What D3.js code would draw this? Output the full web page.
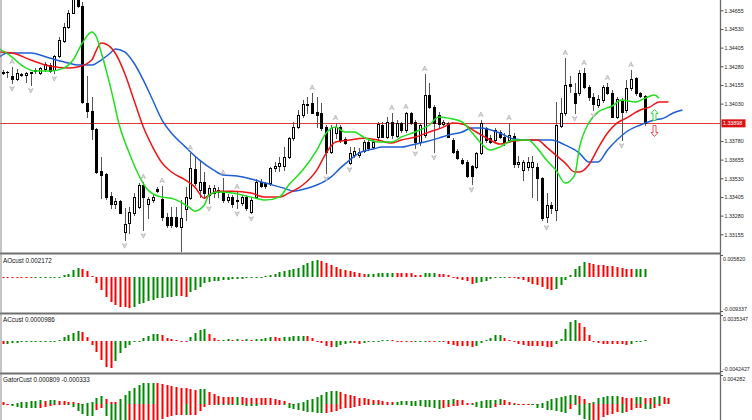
<!DOCTYPE html>
<html><head><meta charset="utf-8">
<script src="https://cdn.jsdelivr.net/npm/d3@7"></script>
<style>html,body{margin:0;padding:0;background:#fff}svg{display:block}</style>
</head><body>
<svg id="c" width="752" height="420"></svg>
<script>
// ---------- DATA ----------
const open = [
1.34242,1.34245,1.34215,1.34195,1.34228,1.34222,1.34242,1.34250,1.34237,1.34260,
1.34286,1.34255,1.34349,1.34451,1.34541,1.34639,1.34737,1.34684,1.34034,1.33980,
1.33860,1.33578,1.33558,1.33411,1.33357,1.33377,1.33170,1.33230,1.33297,1.33337,
1.33485,1.33357,1.33384,1.33458,1.33391,1.33270,1.33270,1.33270,1.33203,1.33324,
1.33397,1.33592,1.33451,1.33505,1.33418,1.33431,1.33451,1.33444,1.33384,1.33404,
1.33377,1.33364,1.33404,1.33304,1.33404,1.33505,1.33498,1.33498,1.33598,1.33612,
1.33612,1.33672,1.33799,1.33873,1.33954,1.34027,1.34034,1.33974,1.33967,1.33873,
1.33706,1.33833,1.33873,1.33793,1.33632,1.33685,1.33685,1.33712,1.33773,1.33739,
1.33806,1.33887,1.33806,1.33907,1.33813,1.33900,1.33853,1.33967,1.33907,1.33773,
1.33819,1.34088,1.34007,1.33954,1.33893,1.33900,1.33786,1.33712,1.33652,1.33639,
1.33612,1.33605,1.33699,1.33866,1.33799,1.33786,1.33840,1.33806,1.33786,1.33813,
1.33625,1.33585,1.33605,1.33605,1.33605,1.33531,1.33270,1.33351,1.33317,1.33880,
1.33967,1.34161,1.34101,1.34101,1.34235,1.34141,1.34074,1.34020,1.34054,1.34141,
1.34101,1.33940,1.34047,1.33987,1.34134,1.34201,1.34101,1.34081];
const high = [
1.34255,1.34248,1.34275,1.34262,1.34237,1.34244,1.34244,1.34266,1.34277,1.34311,
1.34304,1.34356,1.34478,1.34568,1.34657,1.34778,1.34778,1.34711,1.34215,1.34074,
1.33866,1.33672,1.33565,1.33438,1.33397,1.33384,1.33330,1.33337,1.33431,1.33498,
1.33505,1.33404,1.33418,1.33471,1.33478,1.33297,1.33337,1.33337,1.33384,1.33471,
1.33699,1.33672,1.33652,1.33572,1.33485,1.33485,1.33471,1.33531,1.33424,1.33418,
1.33438,1.33418,1.33418,1.33404,1.33525,1.33525,1.33505,1.33605,1.33639,1.33672,
1.33739,1.33806,1.33907,1.33987,1.34054,1.34074,1.34101,1.34074,1.34034,1.33887,
1.33887,1.33900,1.33887,1.33806,1.33739,1.33739,1.33732,1.33786,1.33799,1.33786,
1.33907,1.33907,1.33940,1.33967,1.33920,1.33907,1.33974,1.33974,1.33920,1.33900,
1.34228,1.34168,1.34020,1.33974,1.33920,1.33907,1.33799,1.33726,1.33665,1.33652,
1.33619,1.33706,1.33920,1.33873,1.33819,1.33866,1.33853,1.33833,1.33900,1.33833,
1.33679,1.33652,1.33672,1.33679,1.33632,1.33538,1.33431,1.33371,1.34041,1.34067,
1.34335,1.34215,1.34168,1.34255,1.34268,1.34155,1.34101,1.34088,1.34155,1.34168,
1.34121,1.34074,1.34067,1.34188,1.34255,1.34208,1.34108,1.34088];
const low = [
1.34228,1.34208,1.34168,1.34188,1.34215,1.34177,1.34155,1.34237,1.34228,1.34250,
1.34244,1.34235,1.34344,1.34445,1.34534,1.34635,1.34679,1.34034,1.33940,1.33793,
1.33565,1.33397,1.33391,1.33330,1.33330,1.33297,1.33116,1.33163,1.33283,1.33330,
1.33183,1.33263,1.33371,1.33438,1.33250,1.33203,1.33203,1.33203,1.33042,1.33250,
1.33391,1.33485,1.33404,1.33397,1.33364,1.33404,1.33404,1.33371,1.33371,1.33337,
1.33330,1.33351,1.33317,1.33297,1.33397,1.33471,1.33464,1.33485,1.33578,1.33578,
1.33585,1.33665,1.33786,1.33866,1.33940,1.33967,1.33967,1.33873,1.33853,1.33565,
1.33699,1.33799,1.33773,1.33759,1.33625,1.33672,1.33672,1.33706,1.33719,1.33732,
1.33786,1.33806,1.33799,1.33799,1.33806,1.33840,1.33840,1.33893,1.33732,1.33753,
1.33806,1.34000,1.33706,1.33873,1.33887,1.33806,1.33699,1.33659,1.33625,1.33538,
1.33491,1.33598,1.33692,1.33773,1.33766,1.33773,1.33799,1.33753,1.33773,1.33605,
1.33605,1.33518,1.33585,1.33404,1.33384,1.33250,1.33237,1.33297,1.33250,1.33873,
1.33954,1.34108,1.33967,1.34088,1.34134,1.34054,1.33987,1.34007,1.34041,1.34094,
1.33940,1.33933,1.33786,1.33974,1.34121,1.34088,1.34074,1.33887];
const close = [
1.34238,1.34243,1.34195,1.34232,1.34225,1.34232,1.34238,1.34252,1.34266,1.34295,
1.34250,1.34349,1.34456,1.34545,1.34639,1.34737,1.34684,1.34041,1.33980,1.33860,
1.33572,1.33552,1.33404,1.33357,1.33377,1.33300,1.33223,1.33304,1.33404,1.33485,
1.33404,1.33391,1.33404,1.33444,1.33270,1.33217,1.33217,1.33210,1.33263,1.33404,
1.33598,1.33498,1.33505,1.33431,1.33464,1.33464,1.33438,1.33384,1.33404,1.33357,
1.33384,1.33404,1.33330,1.33384,1.33505,1.33478,1.33478,1.33598,1.33612,1.33632,
1.33672,1.33799,1.33873,1.33954,1.34027,1.34020,1.33970,1.33954,1.33866,1.33706,
1.33866,1.33873,1.33786,1.33766,1.33699,1.33712,1.33706,1.33773,1.33732,1.33773,
1.33893,1.33809,1.33907,1.33819,1.33900,1.33853,1.33967,1.33900,1.33773,1.33887,
1.34088,1.34007,1.33900,1.33893,1.33907,1.33809,1.33706,1.33665,1.33632,1.33545,
1.33545,1.33699,1.33900,1.33786,1.33773,1.33853,1.33806,1.33766,1.33819,1.33625,
1.33639,1.33639,1.33639,1.33639,1.33531,1.33263,1.33351,1.33330,1.33887,1.33967,
1.34155,1.34148,1.34034,1.34235,1.34141,1.34074,1.34027,1.34061,1.34141,1.34101,
1.33943,1.34061,1.33974,1.34134,1.34195,1.34101,1.34081,1.33898];

// Alligator lines (bar index, price)
const jawIdx = [-1,1,6,10,14,16,19,21,23,24,26,28,30,32,34,36,39,42,45,47,50,53,56,60,62,65,67,70,72,74,76,79,81,85,87,90,93,95,98,100,102,106,109,112,117,120,123,125,127,129,131,133,136,139,141,143,145];
const jawVal = [1.34335,1.34369,1.34369,1.34335,1.34302,1.34288,1.34288,1.34322,1.34369,1.34396,1.34376,1.34302,1.34188,1.34054,1.33920,1.33833,1.33739,1.33652,1.33585,1.33552,1.33545,1.33525,1.33498,1.33464,1.33444,1.33464,1.33485,1.33538,1.33598,1.33652,1.33699,1.33726,1.33739,1.33739,1.33752,1.33773,1.33799,1.33819,1.33840,1.33866,1.33866,1.33833,1.33793,1.33786,1.33786,1.33752,1.33699,1.33639,1.33639,1.33719,1.33786,1.33840,1.33887,1.33920,1.33933,1.33967,1.33987];
const teethIdx = [-1,2,6,10,14,16,19,20,21,22,24,26,28,30,32,34,36,39,41,43,44,46,49,53,56,59,61,64,67,69,71,74,77,80,83,85,88,91,94,96,98,101,104,106,109,112,114,116,118,120,122,123,125,127,129,131,133,136,138,140,142];
const teethVal = [1.34376,1.34369,1.34322,1.34282,1.34268,1.34275,1.34322,1.34389,1.34436,1.34429,1.34369,1.34235,1.34054,1.33873,1.33739,1.33632,1.33572,1.33518,1.33471,1.33397,1.33418,1.33444,1.33444,1.33431,1.33404,1.33404,1.33431,1.33485,1.33585,1.33699,1.33773,1.33786,1.33799,1.33786,1.33766,1.33786,1.33806,1.33840,1.33873,1.33900,1.33893,1.33840,1.33786,1.33759,1.33779,1.33786,1.33786,1.33739,1.33685,1.33632,1.33572,1.33572,1.33619,1.33732,1.33833,1.33900,1.33933,1.33987,1.34007,1.34041,1.34041];
const lipsIdx = [-1,2,4,7,10,13,15,17,19,20,21,23,25,27,29,31,34,36,38,40,41,43,44,46,49,53,56,59,61,64,67,69,71,73,75,77,80,83,85,88,91,93,95,98,100,102,104,106,109,112,114,116,118,120,122,123,125,127,130,132,135,137,139,140];
const lipsVal = [1.34402,1.34342,1.34288,1.34248,1.34248,1.34268,1.34322,1.34436,1.34510,1.34476,1.34376,1.34141,1.33873,1.33699,1.33552,1.33451,1.33404,1.33397,1.33371,1.33330,1.33310,1.33351,1.33418,1.33438,1.33431,1.33404,1.33384,1.33404,1.33485,1.33585,1.33719,1.33833,1.33873,1.33840,1.33840,1.33806,1.33773,1.33773,1.33806,1.33840,1.33887,1.33940,1.33933,1.33907,1.33840,1.33766,1.33719,1.33739,1.33786,1.33786,1.33732,1.33652,1.33585,1.33498,1.33552,1.33732,1.33900,1.33974,1.34014,1.34054,1.34041,1.34067,1.34088,1.34067];

// Fractal bars
const upFractals = [2,30,34,40,47,50,66,71,83,86,90,102,108,120,124,129,134];
const downFractals = [2,6,11,26,30,44,50,53,69,74,88,92,100,116,122,126,132];

// Signal arrows (bar, price)
const signalBar = [139, 139];
const signalPrice = [1.33994, 1.33887];
const signalDir = ['up', 'down'];

// Price axis ticks
const priceTicks = [1.34655,1.34530,1.34405,1.34280,1.34155,1.34030,1.33780,1.33655,1.33530,1.33405,1.33280,1.33155];

// AO
const ao = [
-0.000179,-0.000205,-0.000232,-0.000259,-0.000286,-0.000304,-0.000321,-0.000295,-0.000268,-0.000232,
-0.000196,-0.000134,0.000045,0.000447,0.000893,0.001786,0.002500,0.002233,0.001607,0.000179,
-0.001518,-0.003572,-0.005537,-0.006698,-0.007591,-0.008037,-0.008216,-0.008305,-0.008037,-0.007412,
-0.007144,-0.006519,-0.006251,-0.005805,-0.005626,-0.005447,-0.005313,-0.005090,-0.005269,-0.005358,
-0.004019,-0.003572,-0.002679,-0.001518,-0.001340,-0.001161,-0.001072,-0.000893,-0.000714,-0.000625,
-0.000536,-0.000447,-0.000357,-0.000268,-0.000179,-0.000089,0.000268,0.000447,0.000893,0.001340,
0.001518,0.001786,0.002233,0.002500,0.003126,0.003840,0.004465,0.004644,0.004465,0.003840,
0.003304,0.002679,0.002054,0.001786,0.001607,0.001340,0.001072,0.000804,0.000848,0.000893,
0.000982,0.001072,0.001161,0.001206,0.001161,0.001116,0.001072,0.001027,0.000625,0.000580,
0.001072,0.001161,0.001206,0.000893,0.000848,0.000447,0.000045,-0.000447,-0.000714,-0.001072,
-0.001786,-0.001697,-0.001429,-0.001072,-0.000625,-0.000179,-0.000089,0.000000,-0.000089,-0.000357,
-0.000447,-0.000893,-0.001340,-0.001786,-0.002054,-0.002679,-0.003126,-0.003393,-0.003126,-0.002054,
-0.000714,0.000447,0.002233,0.002947,0.003929,0.003840,0.003572,0.003304,0.003126,0.002947,
0.002858,0.002679,0.002411,0.002233,0.002054,0.002099,0.002143,0.002172];
const aoRange = [-0.009337, 0.005820];

// AC
const ac = [
-0.000455,-0.000364,-0.000318,-0.000227,-0.000182,-0.000136,-0.000091,-0.000068,-0.000045,-0.000023,
0.000000,0.000045,0.000182,0.000546,0.000773,0.001137,0.001319,0.001228,0.000546,-0.000591,
-0.001501,-0.002637,-0.003592,-0.003729,-0.002728,-0.001728,-0.001046,-0.000591,-0.000136,0.000000,
0.000364,0.000682,0.000909,0.001000,0.000818,0.000455,0.000227,0.000136,-0.000045,-0.000136,
0.000546,0.001137,0.001501,0.001682,0.001000,0.000364,0.000136,0.000182,0.000227,0.000182,
0.000227,0.000182,0.000205,0.000182,0.000227,0.000318,0.000409,0.000546,0.000500,0.000455,
0.000546,0.000591,0.000637,0.000682,0.000728,0.000682,0.000455,0.000000,-0.000227,-0.000682,
-0.000909,-0.000818,-0.000546,-0.000364,-0.000227,-0.000273,-0.000364,-0.000273,-0.000136,-0.000091,
0.000045,0.000091,0.000114,0.000091,0.000045,0.000000,-0.000045,-0.000091,-0.000045,0.000000,
0.000045,-0.000045,-0.000091,-0.000045,-0.000091,-0.000455,-0.000591,-0.000682,-0.000728,-0.000750,
-0.000773,-0.000637,-0.000227,0.000136,0.000455,0.000773,0.000818,0.000364,0.000091,-0.000045,
-0.000455,-0.000591,-0.000682,-0.000705,-0.000728,-0.000750,-0.000773,-0.000796,-0.000455,0.000227,
0.001682,0.002592,0.002956,0.002501,0.001910,0.000864,0.000000,-0.000273,-0.000364,-0.000409,
-0.000432,-0.000455,-0.000477,-0.000500,-0.000364,-0.000182,-0.000045,0.0000986];
const acRange = [-0.0042427, 0.0035347];

// Gator (upper = |jaw-teeth|, lower = |teeth-lips|)
const gatorUp = [
0.000235,0,0,0.000134,0.000268,0.000369,0.000469,0.000503,0.000536,0.000503,
0.000536,0.000536,0.000503,0.000436,0.000335,0.000235,0.000134,0,0.000134,0.000335,
0.000871,0.001139,0.000804,0.000335,0.000268,0.000804,0.001407,0.002010,0.002479,0.002881,
0.003082,0.003149,0.003216,0.003149,0.003015,0.002881,0.002747,0.002613,0.002479,0.002345,
0.002211,0.002144,0.002211,0.002278,0.001876,0.001541,0.001206,0.001072,0.001039,0.001005,
0.001039,0.001005,0.000972,0.000938,0.000938,0.000938,0.000938,0.000871,0.000737,0.000670,
0.000469,0.000201,0,0.000134,0.000268,0.000536,0.000737,0.001005,0.001340,0.001809,
0.002010,0.002010,0.001809,0.001575,0.001340,0.001139,0.000972,0.000871,0.000771,0.000670,
0.000536,0.000402,0.000335,0.000268,0.000335,0.000469,0.000469,0.000469,0.000469,0.000536,
0.000536,0.000603,0.000603,0.000670,0.000603,0.000670,0.000737,0.000637,0.000536,0.000201,
0.000134,0.000268,0.000402,0.000536,0.000603,0.000670,0.000737,0.000536,0.000335,0.000134,
0.000067,0,0,0,0,0.000201,0.000469,0.000737,0.000871,0.001005,
0.001206,0.001340,0.001407,0.001206,0.000737,0.000201,0.000335,0.000938,0.001072,0.001139,
0.001139,0.001139,0.001072,0.000938,0.000938,0.001005,0.001005,0.000972,0.000938,0.001072,
0.001139,0.001072,0.000938];
const gatorDown = [
0.000168,0.000067,0.000268,0.000402,0.000536,0.000570,0.000603,0.000637,0.000536,0.000436,
0.000335,0.000201,0.000101,0,0.000201,0.000503,0.001005,0.001474,0.001809,0.001876,
0.000871,0.000603,0.001742,0.002613,0.003618,0.004355,0.004556,0.004422,0.004355,0.004087,
0.003819,0.003484,0.003149,0.002814,0.002278,0.001977,0.001742,0.001675,0.001608,0.001675,
0.001608,0.001608,0.001005,0.000469,0,0,0.000067,0.000101,0.000134,0.000134,
0.000168,0.000201,0.000235,0.000268,0.000268,0.000201,0.000201,0.000134,0.000067,0,
0.000201,0.000536,0.000737,0.000871,0.001005,0.001139,0.001206,0.001340,0.001407,0.001340,
0.001206,0.001005,0.000804,0.000570,0.000536,0.000469,0.000302,0.000067,0.000034,0.000134,
0.000134,0.000067,0,0.000067,0.000134,0.000201,0.000201,0.000268,0.000335,0.000335,
0.000402,0.000469,0.000603,0.000737,0.000670,0.000469,0.000268,0.000235,0.000134,0,
0.000134,0.000402,0.000603,0.000670,0.000670,0.000469,0.000201,0.000067,0,0.000067,
0.000034,0,0,0.000134,0.000536,0.000603,0.000871,0.000938,0.001005,0.001206,
0.001340,0.000804,0.000201,0.001608,0.002278,0.002814,0.002680,0.002412,0.002010,0.001675,
0.001474,0.001273,0.001340,0.001206,0.000938,0.000670,0.000670,0.000704,0.000737,0.000603,
0.000268];
const gatorRange = [-0.004282, 0.004282];
const gatorLabelVals = [0.000809, -0.000333];

// ---------- DRAWING ----------
const svg = d3.select('#c');
const FONT = "'Liberation Sans', Arial, sans-serif";
const GREEN = '#008a00', RED = '#ff0000';
const PLOT_R = 720;

const x = d3.scaleLinear().domain([0, 137]).range([2.67, 645]);
const y = d3.scaleLinear().domain([1.33155, 1.34655]).range([234.3, 10.3]);
const yAO = d3.scaleLinear().domain(aoRange).range([311.5, 255.5]);
const yAC = d3.scaleLinear().domain(acRange).range([371.5, 315.5]);
const yG = d3.scaleLinear().domain(gatorRange).range([432.5, 375.5]);

const defs = svg.append('defs');
function clip(id, x0, y0, w, h) {
  defs.append('clipPath').attr('id', id).append('rect').attr('x', x0).attr('y', y0).attr('width', w).attr('height', h);
}
clip('cMain', 0, 0, PLOT_R, 252.5);
clip('cAO', 0, 254.5, PLOT_R, 58);
clip('cAC', 0, 314.5, PLOT_R, 58);
clip('cG', 0, 374.5, PLOT_R, 46);

const gMain = svg.append('g').attr('clip-path', 'url(#cMain)');

// current price line
const last = close[close.length - 1];
gMain.append('line').attr('x1', 0).attr('x2', PLOT_R)
  .attr('y1', Math.round(y(last)) + 0.5).attr('y2', Math.round(y(last)) + 0.5)
  .attr('stroke', '#e03a3a').attr('stroke-width', 1);

// candles
const gCand = gMain.append('g');
open.forEach((o, i) => {
  const c = close[i], h = high[i], l = low[i];
  const cx = Math.round(x(i)) + 0.5;
  gCand.append('line').attr('x1', cx).attr('x2', cx)
    .attr('y1', Math.round(y(h))).attr('y2', Math.round(y(l)) + 1)
    .attr('stroke', '#555').attr('stroke-width', 1);
  const yt = Math.round(y(Math.max(o, c))) + 0.5;
  const yb = Math.round(y(Math.min(o, c))) + 0.5;
  if (yb - yt < 1) {
    gCand.append('line').attr('x1', cx - 1.5).attr('x2', cx + 1.5).attr('y1', yt).attr('y2', yt)
      .attr('stroke', '#000').attr('stroke-width', 1);
  } else {
    gCand.append('rect').attr('x', cx - 1).attr('y', yt).attr('width', 2).attr('height', yb - yt)
      .attr('fill', c >= o ? '#fff' : '#000').attr('stroke', '#000').attr('stroke-width', 1);
  }
});

// alligator lines
function drawLine(idx, vals, color) {
  const pts = idx.map((d, k) => [d, vals[k]]);
  gMain.append('path').datum(pts)
    .attr('d', d3.line().x(d => x(d[0])).y(d => y(d[1])).curve(d3.curveMonotoneX))
    .attr('fill', 'none').attr('stroke', color).attr('stroke-width', 1.5).attr('stroke-linejoin', 'round');
}
drawLine(jawIdx, jawVal, '#1f5fd6');
drawLine(teethIdx, teethVal, '#f01414');
drawLine(lipsIdx, lipsVal, '#1ee01e');

// fractals
const gFr = gMain.append('g');
upFractals.forEach(i => {
  const cx = x(i), cy = y(high[i]) - 5.5;
  gFr.append('path').attr('transform', `translate(${cx},${cy})`)
    .attr('d', 'M0,-2.6L2.3,2L0,0.8L-2.3,2Z')
    .attr('fill', '#dcdcdc').attr('stroke', '#a8a8a8').attr('stroke-width', 0.6);
});
downFractals.forEach(i => {
  const cx = x(i), cy = y(low[i]) + 5.5;
  gFr.append('path').attr('transform', `translate(${cx},${cy})`)
    .attr('d', 'M0,2.6L2.3,-2L0,-0.8L-2.3,-2Z')
    .attr('fill', '#dcdcdc').attr('stroke', '#a8a8a8').attr('stroke-width', 0.6);
});

// signal arrows (hollow)
signalBar.forEach((b, k) => {
  const cx = Math.round(x(b)) + 0.5, cy = Math.round(y(signalPrice[k])) + 0.5;
  const up = signalDir[k] === 'up';
  const d = up
    ? 'M0,0L3.5,4L1.5,4L1.5,11L-1.5,11L-1.5,4L-3.5,4Z'
    : 'M-1.5,0L1.5,0L1.5,7L3.5,7L0,11L-3.5,7L-1.5,7Z';
  gMain.append('path').attr('transform', `translate(${cx},${cy})`).attr('d', d)
    .attr('fill', '#fff').attr('stroke', up ? '#39d839' : '#f05050').attr('stroke-width', 1);
});

// histogram helper
function colorsFor(vals) {
  let prev = 'r';
  return vals.map((v, i) => {
    if (i === 0) return RED;
    if (v > vals[i - 1]) prev = 'g';
    else if (v < vals[i - 1]) prev = 'r';
    return prev === 'g' ? GREEN : RED;
  });
}
function hist(g, vals, ys, sign) {
  const cols = colorsFor(vals);
  vals.forEach((v, i) => {
    const sv = sign * v;
    const y0 = Math.round(ys(0)), y1 = Math.round(ys(sv));
    const top = Math.min(y0, y1), hgt = Math.max(1, Math.abs(y1 - y0));
    g.append('rect').attr('x', Math.round(x(i)) - 1 + 0.5).attr('width', 2)
      .attr('y', top).attr('height', hgt).attr('fill', cols[i]);
  });
}
hist(svg.append('g').attr('clip-path', 'url(#cAO)'), ao, yAO, 1);
hist(svg.append('g').attr('clip-path', 'url(#cAC)'), ac, yAC, 1);
const gG = svg.append('g').attr('clip-path', 'url(#cG)');
hist(gG, gatorUp, yG, 1);
hist(gG, gatorDown, yG, -1);

// frame: separators, left border, axis line
[253.5, 313.5, 373.5].forEach(sy => {
  svg.append('line').attr('x1', 0).attr('x2', PLOT_R + 1).attr('y1', sy).attr('y2', sy)
    .attr('stroke', '#6f6f6f').attr('stroke-width', 2);
});
svg.append('line').attr('x1', 1).attr('x2', 1).attr('y1', 0).attr('y2', 420).attr('stroke', '#8a8a8a');
svg.append('line').attr('x1', PLOT_R + 0.5).attr('x2', PLOT_R + 0.5).attr('y1', 0).attr('y2', 420)
  .attr('stroke', '#6a6a6a').attr('stroke-width', 1.3);

// price axis
const axis = d3.axisRight(y).tickValues(priceTicks).tickSize(3).tickPadding(1)
  .tickFormat(d => d.toFixed(5));
const gAx = svg.append('g').attr('transform', `translate(${PLOT_R + 0.5},0)`).call(axis);
gAx.select('.domain').remove();
gAx.selectAll('line').attr('stroke', '#555');
gAx.selectAll('text').attr('font-family', FONT).attr('font-size', 5.3).attr('fill', '#222');

// current price label
const ly = y(last);
svg.append('rect').attr('x', PLOT_R + 1.5).attr('y', ly - 4).attr('width', 24).attr('height', 8).attr('fill', '#dd1111');
svg.append('text').attr('x', PLOT_R + 3).attr('y', ly + 2).text(last.toFixed(5))
  .attr('font-family', FONT).attr('font-size', 5.3).attr('fill', '#fff');

// sub-panel scale labels
function scaleLabels(ys, range, digits) {
  const top = ys(range[1]), bot = ys(range[0]);
  [[top, range[1], top + 5], [bot, range[0], bot - 0.5]].forEach(([ty, v, by]) => {
    svg.append('line').attr('x1', PLOT_R + 0.5).attr('x2', PLOT_R + 3).attr('y1', ty).attr('y2', ty).attr('stroke', '#555');
    svg.append('text').attr('x', PLOT_R + 3).attr('y', by).text(v.toFixed(digits))
      .attr('font-family', FONT).attr('font-size', 5.3).attr('fill', '#222');
  });
}
scaleLabels(yAO, aoRange, 6);
scaleLabels(yAC, acRange, 7);
(function () {
  const ty = yG(gatorRange[1]);
  svg.append('line').attr('x1', PLOT_R + 0.5).attr('x2', PLOT_R + 3).attr('y1', ty).attr('y2', ty).attr('stroke', '#555');
  svg.append('text').attr('x', PLOT_R + 3).attr('y', ty + 5).text(gatorRange[1].toFixed(6))
    .attr('font-family', FONT).attr('font-size', 5.3).attr('fill', '#222');
})();

// indicator names
function label(txt, by) {
  svg.append('text').attr('x', 3).attr('y', by).text(txt)
    .attr('font-family', FONT).attr('font-size', 6.3).attr('fill', '#111');
}
label('AOcust ' + ao[ao.length - 1].toFixed(6), 262.7);
label('ACcust ' + ac[ac.length - 1].toFixed(7), 321.6);
label('GatorCust ' + gatorLabelVals[0].toFixed(6) + ' ' + gatorLabelVals[1].toFixed(6), 381.6);
</script>
</body></html>
